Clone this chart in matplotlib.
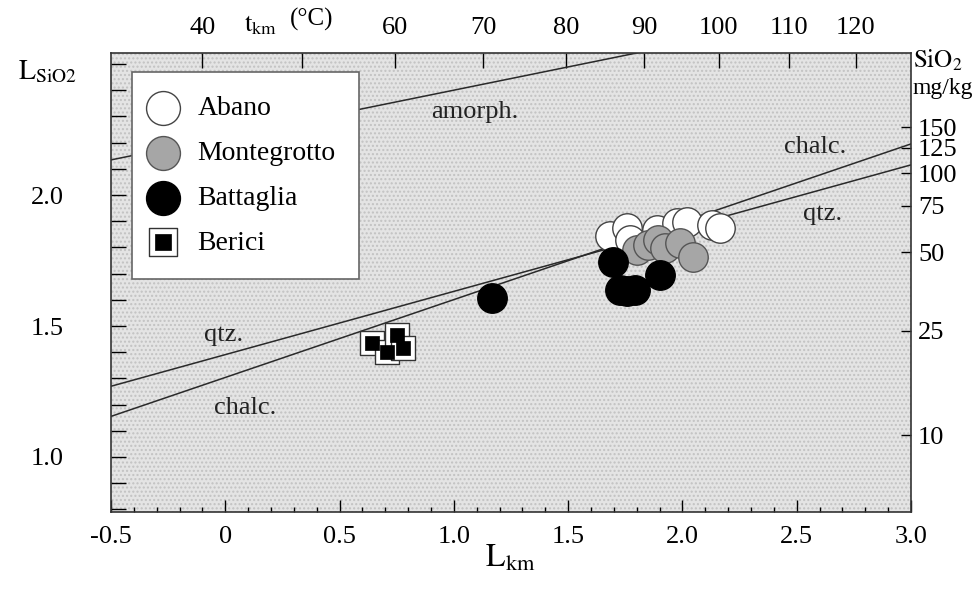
import numpy as np
import matplotlib
matplotlib.use("Agg")
import matplotlib.pyplot as plt
from matplotlib.patches import Rectangle
from matplotlib.legend_handler import HandlerTuple

# saturation lines (L_km at the two plot edges)
line_x = [-0.5, 3.0]
qtz_y = [1.27, 2.115]
chalc_y = [1.155, 2.195]
amorph_y = [2.134, 2.755]

# samples (L_km, L_SiO2)
abano_x = [1.683, 1.758, 1.771, 1.889, 1.976, 2.020, 2.129, 2.164]
abano_y = [1.844, 1.874, 1.828, 1.866, 1.893, 1.897, 1.885, 1.874]

montegrotto_x = [1.801, 1.849, 1.893, 1.924, 1.989, 2.046]
montegrotto_y = [1.790, 1.809, 1.828, 1.798, 1.817, 1.763]

battaglia_x = [1.167, 1.696, 1.727, 1.758, 1.793, 1.902]
battaglia_y = [1.607, 1.744, 1.637, 1.634, 1.637, 1.695]

berici_x = [0.642, 0.708, 0.751, 0.778]
berici_y = [1.435, 1.401, 1.466, 1.416]

xticks_major = [-0.5, 0, 0.5, 1.0, 1.5, 2.0, 2.5, 3.0]
xtick_labels = ["-0.5", "0", "0.5", "1.0", "1.5", "2.0", "2.5", "3.0"]
yticks_major = [1.0, 1.5, 2.0]
ytick_labels = ["1.0", "1.5", "2.0"]
t_ticks = [40, 50, 60, 70, 80, 90, 100, 110, 120]
t_labels = ["40", "", "60", "70", "80", "90", "100", "110", "120"]
sio2_ticks = [10, 25, 50, 75, 100, 125, 150]

SERIF = "Liberation Serif"


def lkm_to_t(L):
    L = np.asarray(L, dtype=float)
    return 4400.0 / (13.95 - L) - 273.15


def t_to_lkm(t):
    t = np.asarray(t, dtype=float)
    return 13.95 - 4400.0 / np.maximum(t + 273.15, 1e-6)


def lsio2_to_c(L):
    return 10 ** (np.asarray(L, dtype=float) - 0.083)


def c_to_lsio2(c):
    return np.log10(np.maximum(np.asarray(c, dtype=float), 1e-9)) + 0.083


def main():
    plt.rcParams["font.family"] = [SERIF, "DejaVu Serif"]
    plt.rcParams["mathtext.fontset"] = "stix"

    fig = plt.figure(figsize=(9.77, 5.89), dpi=100)
    ax = fig.add_axes([0.1136, 0.1307, 0.8188, 0.7793])

    ax.set_facecolor("#e2e2e2")
    bg = Rectangle((0, 0), 1, 1, transform=ax.transAxes, facecolor="#e4e4e4",
                   edgecolor="#c2c2c2", hatch="....", lw=0, zorder=0)
    ax.add_patch(bg)

    ax.plot(line_x, qtz_y, color="#2a2a2a", lw=1.1, zorder=2)
    ax.plot(line_x, chalc_y, color="#2a2a2a", lw=1.1, zorder=2)
    ax.plot(line_x, amorph_y, color="#2a2a2a", lw=1.1, zorder=2)

    s = 450
    h1 = ax.scatter(abano_x, abano_y, s=s, facecolor="white", edgecolor="#444444",
                    lw=1.0, zorder=3, label="Abano")
    h2 = ax.scatter(montegrotto_x, montegrotto_y, s=s, facecolor="#a6a6a6",
                    edgecolor="#555555", lw=1.0, zorder=4, label="Montegrotto")
    h3 = ax.scatter(battaglia_x, battaglia_y, s=s, facecolor="black",
                    edgecolor="black", lw=1.0, zorder=5, label="Battaglia")
    h4a = ax.scatter(berici_x, berici_y, s=300, marker="s", facecolor="white",
                     edgecolor="#333333", lw=1.0, zorder=6)
    h4b = ax.scatter(berici_x, berici_y, s=110, marker="s", facecolor="black",
                     edgecolor="black", lw=0.5, zorder=7)

    txt = dict(fontsize=19, ha="center", va="center", color="#222222", zorder=3)
    ax.text(1.093, 2.317, "amorph.", **txt)
    ax.text(0.086, 1.187, "chalc.", **txt)
    ax.text(-0.006, 1.466, "qtz.", **txt)
    ax.text(2.58, 2.183, "chalc.", **txt)
    ax.text(2.615, 1.927, "qtz.", **txt)

    ax.set_xlim(-0.5, 3.0)
    ax.set_ylim(0.79, 2.542)

    ax.set_xticks(xticks_major)
    ax.set_xticklabels(xtick_labels)
    ax.set_xticks(np.arange(-0.5, 3.01, 0.1), minor=True)
    ax.set_yticks(yticks_major)
    ax.set_yticklabels(ytick_labels)
    ax.set_yticks(np.arange(0.8, 2.55, 0.1), minor=True)

    ax.tick_params(axis="x", which="major", direction="in", length=8.5, width=1,
                   labelsize=19, pad=10, top=False)
    ax.tick_params(axis="x", which="minor", direction="in", length=3.5, width=1, top=False)
    ax.tick_params(axis="y", which="major", direction="in", length=11, width=1,
                   labelsize=19, pad=34, right=False)
    ax.tick_params(axis="y", which="minor", direction="in", length=11, width=1, right=False)

    for sp in ax.spines.values():
        sp.set_linewidth(1.2)
        sp.set_color("#333333")

    top = ax.secondary_xaxis("top", functions=(lkm_to_t, t_to_lkm))
    top.set_xticks(t_ticks)
    top.set_xticklabels(t_labels)
    top.xaxis.set_minor_locator(matplotlib.ticker.NullLocator())
    top.tick_params(direction="in", length=11, width=1, labelsize=19, pad=10)
    top.spines["top"].set_visible(False)

    right = ax.secondary_yaxis("right", functions=(lsio2_to_c, c_to_lsio2))
    right.set_yticks(sio2_ticks)
    right.set_yticklabels([str(v) for v in sio2_ticks])
    right.yaxis.set_minor_locator(matplotlib.ticker.NullLocator())
    right.tick_params(direction="in", length=7, width=1, labelsize=19, pad=5)
    right.spines["right"].set_visible(False)

    leg = ax.legend([h1, h2, h3, (h4a, h4b)],
                    ["Abano", "Montegrotto", "Battaglia", "Berici"],
                    handler_map={tuple: HandlerTuple(ndivide=1)},
                    loc="upper left", bbox_to_anchor=(132 / 977, 1 - 72 / 589),
                    bbox_transform=fig.transFigure, borderaxespad=0,
                    fontsize=20, frameon=True, fancybox=False, framealpha=1,
                    facecolor="white", edgecolor="#666666", markerscale=1.15,
                    handlelength=0.5, handletextpad=1.0, labelspacing=0.7,
                    borderpad=0.85)
    leg.get_frame().set_linewidth(1.2)
    leg.set_zorder(10)

    fig.text(0.522, 0.052, r"$\mathrm{L_{km}}$", fontsize=23, ha="center", va="center")
    fig.text(0.018, 0.878, r"$\mathrm{L_{SiO2}}$", fontsize=20, ha="left", va="center")
    fig.text(0.250, 0.957, r"$\mathrm{t_{km}}$", fontsize=19, ha="left", va="center")
    fig.text(0.297, 0.967, "(°C)", fontsize=18, ha="left", va="center")
    fig.text(0.934, 0.897, r"$\mathrm{SiO_2}$", fontsize=18, ha="left", va="center")
    fig.text(0.934, 0.850, "mg/kg", fontsize=17, ha="left", va="center")

    fig.savefig("out.png", dpi=100)


if __name__ == "__main__":
    main()
